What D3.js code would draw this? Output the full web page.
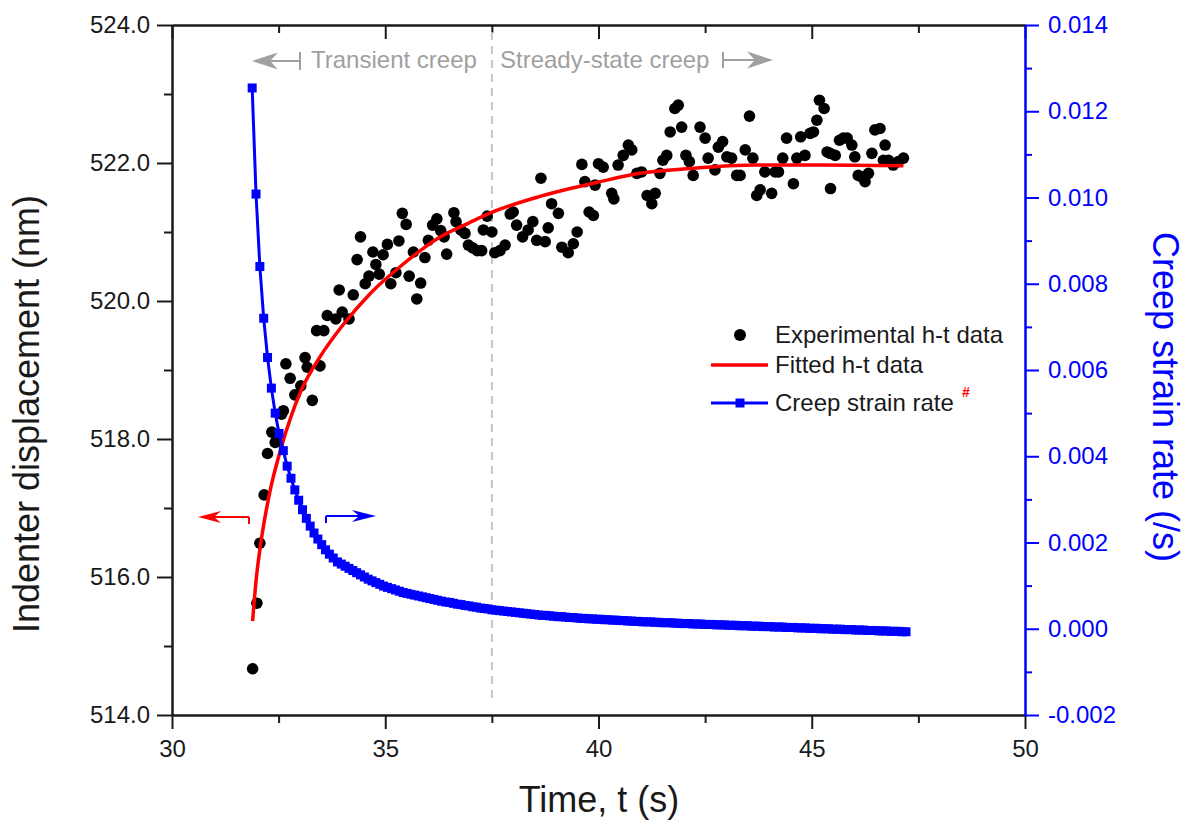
<!DOCTYPE html>
<html>
<head>
<meta charset="utf-8">
<script src="https://d3js.org/d3.v7.min.js"></script>
<style>
  body { margin: 0; background: #fff; }
  svg text { font-family: "Liberation Sans", Arial, sans-serif; }
</style>
</head>
<body>
<svg id="chart" width="1192" height="828"></svg>
<script>
// experimental h-t data (black dots)
var expTime = [31.89,31.99,32.06,32.16,32.24,32.34,32.42,32.57,32.61,32.67,
  32.77,32.88,33.02,33.12,33.17,33.29,33.39,33.47,33.56,33.64,
  33.84,33.92,33.99,34.15,34.25,34.34,34.42,34.53,34.62,34.71,
  34.78,34.86,34.95,35.05,35.13,35.25,35.32,35.40,35.49,35.56,
  35.66,35.74,35.83,35.93,36.01,36.11,36.21,36.30,36.38,36.44,
  36.61,36.66,36.77,36.87,36.95,37.05,37.16,37.26,37.30,37.39,
  37.50,37.57,37.69,37.81,37.93,38.00,38.08,38.22,38.35,38.46,
  38.55,38.65,38.75,38.82,38.90,39.06,39.14,39.29,39.41,39.50,
  39.61,39.68,39.78,39.88,39.92,40.00,40.11,40.31,40.36,40.46,
  40.58,40.70,40.78,40.90,41.01,41.14,41.25,41.33,41.44,41.51,
  41.60,41.68,41.79,41.87,41.95,42.05,42.13,42.22,42.38,42.50,
  42.57,42.73,42.81,42.91,43.01,43.12,43.24,43.32,43.44,43.54,
  43.62,43.71,43.79,43.90,44.06,44.14,44.22,44.32,44.41,44.57,
  44.65,44.74,44.84,44.96,45.04,45.12,45.18,45.29,45.36,45.43,
  45.44,45.55,45.65,45.74,45.83,45.94,46.01,46.09,46.17,46.25,
  46.33,46.41,46.48,46.60,46.68,46.72,46.80,46.91,47.03,47.15];
var expDepth = [514.67,515.62,516.49,517.19,517.79,518.10,517.95,518.36,518.41,519.09,
  518.88,518.64,518.77,519.18,519.04,518.56,519.57,519.06,519.57,519.79,
  519.74,520.16,519.84,519.74,520.09,520.60,520.93,520.25,520.36,520.71,
  520.53,520.39,520.67,520.82,520.25,520.41,520.87,521.27,521.11,520.36,
  520.71,520.03,520.26,520.63,520.88,521.10,521.19,521.02,520.93,520.68,
  521.28,521.15,521.03,520.98,520.81,520.77,520.73,520.73,521.03,521.23,
  521.00,520.70,520.73,520.81,521.26,521.29,521.10,520.93,521.03,521.15,
  520.88,521.78,520.86,521.06,521.41,521.27,520.78,520.70,520.83,521.00,
  521.98,521.73,521.29,521.24,521.68,521.99,521.94,521.56,521.48,521.97,
  522.11,522.26,522.19,521.85,521.87,521.53,521.41,521.56,521.85,522.04,
  522.11,522.45,522.79,522.84,522.52,522.11,522.02,521.82,522.52,522.36,
  522.07,521.90,522.23,522.31,522.09,522.07,521.82,521.82,522.19,522.68,
  522.07,521.53,521.61,521.87,521.56,521.87,521.87,522.07,522.36,521.70,
  522.07,522.38,522.11,522.43,522.45,522.62,522.91,522.79,522.16,522.14,
  521.63,522.11,522.33,522.36,522.36,522.26,522.09,521.82,521.80,521.73,
  521.85,522.14,522.48,522.50,522.04,522.26,522.04,521.97,522.02,522.07];

// fitted h-t curve (red)
var fitTime  = [31.89,31.97,32.08,32.28,32.53,32.81,33.04,33.47,34.03,34.65,35.43,36.21,36.99,37.48,38.65,40.04,40.97,42.15,43.71,45.27,47.15];
var fitDepth = [515.36,515.94,516.48,517.19,517.81,518.36,518.72,519.19,519.67,520.11,520.54,520.90,521.14,521.28,521.52,521.73,521.85,521.92,521.97,521.97,521.96];

// creep strain rate (blue, right axis)
var rateTime = [31.88,31.97,32.06,32.15,32.24,32.33,32.42,32.51,32.61,32.70,
  32.79,32.88,32.97,33.06,33.15,33.24,33.33,33.42,33.51,33.60,
  33.69,33.78,33.88,33.97,34.06,34.15,34.24,34.33,34.42,34.51,
  34.60,34.69,34.78,34.87,34.96,35.05,35.15,35.24,35.33,35.42,
  35.51,35.60,35.69,35.78,35.87,35.96,36.05,36.14,36.23,36.32,
  36.42,36.51,36.60,36.69,36.78,36.87,36.96,37.05,37.14,37.23,
  37.32,37.41,37.50,37.59,37.68,37.78,37.87,37.96,38.05,38.14,
  38.23,38.32,38.41,38.50,38.59,38.68,38.77,38.86,38.95,39.05,
  39.14,39.23,39.32,39.41,39.50,39.59,39.68,39.77,39.86,39.95,
  40.04,40.13,40.22,40.32,40.41,40.50,40.59,40.68,40.77,40.86,
  40.95,41.04,41.13,41.22,41.31,41.40,41.49,41.58,41.68,41.77,
  41.86,41.95,42.04,42.13,42.22,42.31,42.40,42.49,42.58,42.67,
  42.76,42.85,42.95,43.04,43.13,43.22,43.31,43.40,43.49,43.58,
  43.67,43.76,43.85,43.94,44.03,44.12,44.22,44.31,44.40,44.49,
  44.58,44.67,44.76,44.85,44.94,45.03,45.12,45.21,45.30,45.39,
  45.49,45.58,45.67,45.76,45.85,45.94,46.03,46.12,46.21,46.30,
  46.39,46.48,46.57,46.66,46.75,46.85,46.94,47.03,47.12,47.21];
var strainRate = [0.01254,0.01008,0.00840,0.00720,0.00629,0.00558,0.00500,0.00453,0.00413,0.00377,
  0.00349,0.00322,0.00298,0.00276,0.00256,0.00238,0.00222,0.00208,0.00195,0.00183,
  0.00173,0.00164,0.00155,0.00150,0.00145,0.00140,0.00135,0.00130,0.00125,0.00120,
  0.00115,0.00111,0.00107,0.00103,0.00099,0.00096,0.00093,0.00090,0.00087,0.00084,
  0.00082,0.00080,0.00078,0.00076,0.00074,0.00072,0.00070,0.00068,0.00066,0.00064,
  0.00062,0.00061,0.00059,0.00057,0.00056,0.00054,0.00053,0.00051,0.00050,0.00048,
  0.00047,0.00046,0.00044,0.00043,0.00042,0.00041,0.00040,0.00039,0.00038,0.00037,
  0.00036,0.00035,0.00034,0.00033,0.00032,0.00031,0.00031,0.00030,0.00029,0.00028,
  0.00028,0.00027,0.00026,0.00026,0.00025,0.00024,0.00024,0.00023,0.00023,0.00022,
  0.00022,0.00021,0.00021,0.00020,0.00020,0.00019,0.00019,0.00018,0.00018,0.00017,
  0.00017,0.00016,0.00016,0.00016,0.00015,0.00015,0.00014,0.00014,0.00014,0.00013,
  0.00013,0.00012,0.00012,0.00012,0.00011,0.00011,0.00011,0.00010,0.00010,0.00010,
  0.00009,0.00009,0.00009,0.00008,0.00008,0.00008,0.00007,0.00007,0.00007,0.00006,
  0.00006,0.00006,0.00005,0.00005,0.00005,0.00004,0.00004,0.00004,0.00003,0.00003,
  0.00003,0.00002,0.00002,0.00002,0.00001,0.00001,0.00001,0.00000,0.00000,0.00000,
  -0.00001,-0.00001,-0.00001,-0.00002,-0.00002,-0.00002,-0.00003,-0.00003,-0.00003,-0.00004,
  -0.00004,-0.00004,-0.00005,-0.00005,-0.00005,-0.00006,-0.00006,-0.00006,-0.00007,-0.00007];

// ticks
var xTicks = [30, 35, 40, 45, 50];
var xMinor = [32.5, 37.5, 42.5, 47.5];
var leftTicks = [514, 516, 518, 520, 522, 524];
var leftMinor = [515, 517, 519, 521, 523];
var rightTicks = [-0.002, 0, 0.002, 0.004, 0.006, 0.008, 0.010, 0.012, 0.014];
var rightMinor = [-0.001, 0.001, 0.003, 0.005, 0.007, 0.009, 0.011, 0.013];
var boundaryTime = 37.5;

// plot frame (pixels)
var pLeft = 172, pRight = 1025, pTop = 25, pBottom = 715;
var BLUE = "#0000ff", RED = "#ff0000", DARK = "#1a1a1a", GREY = "#a0a0a0";
var FONT = "Liberation Sans, Arial, sans-serif";

var svg = d3.select("#chart");

var x = d3.scaleLinear().domain([30, 50]).range([pLeft, pRight]);
var yL = d3.scaleLinear().domain([514, 524]).range([pBottom, pTop]);
var yR = d3.scaleLinear().domain([-0.002, 0.014]).range([pBottom, pTop]);

function styleAxis(g, color) {
  g.attr("font-family", FONT).attr("font-size", 24);
  g.select(".domain").attr("stroke", color).attr("stroke-width", 2);
  g.selectAll(".tick line").attr("stroke", color).attr("stroke-width", 2);
  g.selectAll(".tick text").attr("fill", color);
}

// bottom
styleAxis(svg.append("g").attr("transform", "translate(0," + pBottom + ")")
  .call(d3.axisBottom(x).tickValues(xTicks).tickSize(14).tickSizeOuter(0).tickPadding(11)), DARK);
styleAxis(svg.append("g").attr("transform", "translate(0," + pBottom + ")")
  .call(d3.axisBottom(x).tickValues(xMinor).tickSize(8).tickSizeOuter(0).tickFormat("")), DARK);
// top (ticks inward)
styleAxis(svg.append("g").attr("transform", "translate(0," + pTop + ")")
  .call(d3.axisTop(x).tickValues(xTicks).tickSize(-14).tickSizeOuter(0).tickFormat("")), DARK);
styleAxis(svg.append("g").attr("transform", "translate(0," + pTop + ")")
  .call(d3.axisTop(x).tickValues(xMinor).tickSize(-8).tickSizeOuter(0).tickFormat("")), DARK);
// left
styleAxis(svg.append("g").attr("transform", "translate(" + pLeft + ",0)")
  .call(d3.axisLeft(yL).tickValues(leftTicks).tickSize(15).tickSizeOuter(0).tickPadding(7).tickFormat(d3.format(".1f"))), DARK);
styleAxis(svg.append("g").attr("transform", "translate(" + pLeft + ",0)")
  .call(d3.axisLeft(yL).tickValues(leftMinor).tickSize(8).tickSizeOuter(0).tickFormat("")), DARK);
// right
var fmtR = d3.format(".3f");
styleAxis(svg.append("g").attr("transform", "translate(" + pRight + ",0)")
  .call(d3.axisRight(yR).tickValues(rightTicks).tickSize(14).tickSizeOuter(0).tickPadding(9)
    .tickFormat(function (d) { return fmtR(d).replace("\u2212", "-"); })), BLUE);
styleAxis(svg.append("g").attr("transform", "translate(" + pRight + ",0)")
  .call(d3.axisRight(yR).tickValues(rightMinor).tickSize(7).tickSizeOuter(0).tickFormat("")), BLUE);

// axis titles
svg.append("text").attr("transform", "translate(39,414) rotate(-90)")
  .attr("text-anchor", "middle").attr("font-size", 36).attr("fill", DARK)
  .text("Indenter displacement (nm)");
svg.append("text").attr("x", 599).attr("y", 812)
  .attr("text-anchor", "middle").attr("font-size", 36).attr("fill", DARK)
  .text("Time, t (s)");
svg.append("text").attr("transform", "translate(1153,397) rotate(90)")
  .attr("text-anchor", "middle").attr("font-size", 36).attr("fill", BLUE)
  .text("Creep strain rate (/s)");

// transient / steady-state boundary
svg.append("line")
  .attr("x1", x(boundaryTime)).attr("x2", x(boundaryTime))
  .attr("y1", 32).attr("y2", 700)
  .attr("stroke", "#c4c4c4").attr("stroke-width", 2).attr("stroke-dasharray", "8,6");

svg.append("text").attr("x", 311).attr("y", 68).attr("font-size", 24).attr("fill", GREY)
  .text("Transient creep");
svg.append("text").attr("x", 500).attr("y", 68).attr("font-size", 24).attr("fill", GREY)
  .text("Stready-state creep");

function arrow(g, x0, x1, yy, barUp, barDown, head, half, color) {
  var dir = x1 < x0 ? -1 : 1;
  g.append("line").attr("x1", x0).attr("x2", x1 - dir * head * 0.6).attr("y1", yy).attr("y2", yy)
    .attr("stroke", color).attr("stroke-width", 2);
  g.append("line").attr("x1", x0).attr("x2", x0).attr("y1", yy - barUp).attr("y2", yy + barDown)
    .attr("stroke", color).attr("stroke-width", 2);
  g.append("path")
    .attr("d", "M" + x1 + "," + yy +
      "L" + (x1 - dir * head) + "," + (yy - half) +
      "L" + (x1 - dir * head * 0.7) + "," + yy +
      "L" + (x1 - dir * head) + "," + (yy + half) + "Z")
    .attr("fill", color);
}
var ann = svg.append("g");
arrow(ann, 300, 252, 61, 9, 9, 26, 8.5, GREY);
arrow(ann, 723, 773, 60, 8, 8, 26, 8.5, GREY);
arrow(ann, 249, 198, 517, 0, 7, 23, 6, RED);
arrow(ann, 326, 376, 516, 0, 7, 24, 6, BLUE);

// experimental data
var expData = expTime.map(function (t, i) { return [t, expDepth[i]]; });
svg.append("g").selectAll("circle").data(expData).enter().append("circle")
  .attr("cx", function (d) { return x(d[0]); })
  .attr("cy", function (d) { return yL(d[1]); })
  .attr("r", 5.8).attr("fill", "#000");

// fitted curve
var fitData = fitTime.map(function (t, i) { return [t, fitDepth[i]]; });
svg.append("path").datum(fitData)
  .attr("d", d3.line().x(function (d) { return x(d[0]); }).y(function (d) { return yL(d[1]); })
    .curve(d3.curveMonotoneX))
  .attr("fill", "none").attr("stroke", RED).attr("stroke-width", 3.5);

// creep strain rate
var rateData = rateTime.map(function (t, i) { return [t, strainRate[i]]; });
svg.append("path").datum(rateData)
  .attr("d", d3.line().x(function (d) { return x(d[0]); }).y(function (d) { return yR(d[1]); }))
  .attr("fill", "none").attr("stroke", BLUE).attr("stroke-width", 3);
svg.append("g").selectAll("rect").data(rateData).enter().append("rect")
  .attr("x", function (d) { return x(d[0]) - 4.5; })
  .attr("y", function (d) { return yR(d[1]) - 4.5; })
  .attr("width", 9).attr("height", 9).attr("fill", BLUE);

// legend
var lg = svg.append("g").attr("font-size", 24).attr("fill", DARK);
lg.append("circle").attr("cx", 740).attr("cy", 335).attr("r", 6).attr("fill", "#000");
lg.append("text").attr("x", 775).attr("y", 343).text("Experimental h-t data");
lg.append("line").attr("x1", 711).attr("x2", 768).attr("y1", 365).attr("y2", 365)
  .attr("stroke", RED).attr("stroke-width", 3.5);
lg.append("text").attr("x", 775).attr("y", 373).text("Fitted h-t data");
lg.append("line").attr("x1", 711).attr("x2", 768).attr("y1", 403).attr("y2", 403)
  .attr("stroke", BLUE).attr("stroke-width", 3);
lg.append("rect").attr("x", 735.5).attr("y", 398.5).attr("width", 9).attr("height", 9).attr("fill", BLUE);
lg.append("text").attr("x", 775).attr("y", 411).text("Creep strain rate");
lg.append("text").attr("x", 962).attr("y", 397).attr("font-size", 14).attr("font-weight", "bold")
  .attr("fill", RED).text("#");
</script>
</body>
</html>
